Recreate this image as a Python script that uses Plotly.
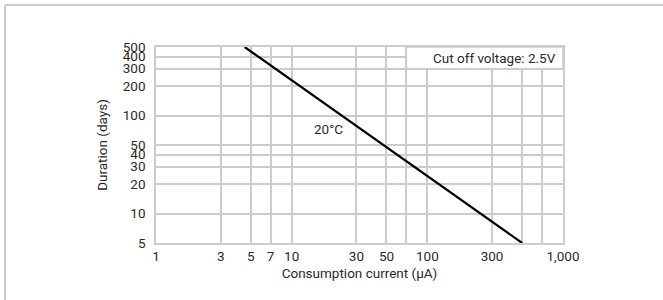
import numpy as np
import plotly.graph_objects as go

# Data
current_ua = [4.5, 500]
duration_days = [500, 5]

x_grid_vals = [1, 3, 5, 7, 10, 30, 50, 70, 100, 300, 500, 700, 1000]
x_grid_text = ["1", "3", "5", "7", "10", "30", "50", "", "100", "300", "", "", "1,000"]
y_grid_vals = [5, 10, 20, 30, 40, 50, 100, 200, 300, 400, 500]
y_grid_text = ["5", "10", "20", "30", "40", "50", "100", "200", "300", "400", "500"]

temp_label = "20°C"
temp_label_pos = (18.7, 72)
cutoff_label = "Cut off voltage: 2.5V"

FONT = "Roboto"
GRID = "#cccccc"
TXT = "#2a2a2a"

fig = go.Figure()
fig.add_trace(go.Scatter(x=current_ua, y=duration_days, mode="lines",
                         line=dict(color="black", width=2.2), showlegend=False,
                         hoverinfo="skip"))

fig.update_layout(
    width=663, height=300,
    margin=dict(l=156, r=100, t=47, b=57),
    paper_bgcolor="white", plot_bgcolor="white",
    font=dict(family=FONT, size=13, color=TXT),
    showlegend=False,
)
fig.update_xaxes(type="log", range=[0, 3], tickvals=x_grid_vals, ticktext=x_grid_text,
                 showgrid=True, gridcolor=GRID, gridwidth=1.5,
                 showline=True, linecolor=GRID, linewidth=1.5, mirror=True,
                 ticks="", ticklen=0, zeroline=False,
                 title=dict(text="Consumption current (μA)", standoff=6,
                            font=dict(size=13.5, color=TXT)),
                 tickfont=dict(size=13.5, color=TXT))
fig.update_yaxes(type="log", range=[np.log10(5), np.log10(500)],
                 tickvals=y_grid_vals, ticktext=y_grid_text,
                 showgrid=True, gridcolor=GRID, gridwidth=1.5,
                 showline=True, linecolor=GRID, linewidth=1.5, mirror=True,
                 ticks="outside", ticklen=6, tickcolor="rgba(0,0,0,0)", zeroline=False,
                 title=dict(text="Duration (days)", standoff=12,
                            font=dict(size=13.5, color=TXT)),
                 tickfont=dict(size=13.5, color=TXT))

# Cut-off voltage box
fig.add_shape(type="rect", xref="x", yref="y",
              x0=70, x1=1000, y0=300, y1=500,
              fillcolor="white", line=dict(color=GRID, width=1.5), layer="above")
fig.add_annotation(x=np.log10(1000), y=np.log10(387), xref="x", yref="y",
                   text=cutoff_label, showarrow=False, xanchor="right", xshift=-5,
                   font=dict(size=13.5, color=TXT))
fig.add_annotation(x=np.log10(temp_label_pos[0]), y=np.log10(temp_label_pos[1]),
                   xref="x", yref="y", text=temp_label, showarrow=False,
                   font=dict(size=13.5, color=TXT))

# Outer frame lines (top and left)
fig.add_shape(type="line", xref="paper", yref="paper",
              x0=(5 - 156) / 407, x1=(663 - 156) / 407, y0=(243 - 5) / 196, y1=(243 - 5) / 196,
              line=dict(color="#cccccc", width=2))
fig.add_shape(type="line", xref="paper", yref="paper",
              x0=(5 - 156) / 407, x1=(5 - 156) / 407, y0=(243 - 5) / 196, y1=(243 - 300) / 196,
              line=dict(color="#cccccc", width=2))

fig.write_html("out.html", config={"displayModeBar": False},
               post_script="document.body.style.margin='0';document.body.style.overflow='hidden';")
